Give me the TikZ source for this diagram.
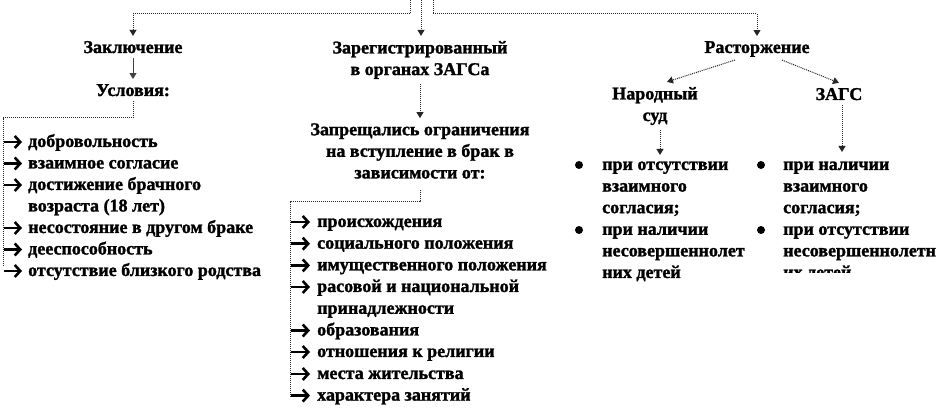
\documentclass[tikz,border=0pt]{standalone}
\usepackage{fontspec}
\setmainfont{Liberation Serif}[BoldFeatures={FakeBold=1.5}]
\usetikzlibrary{arrows.meta,calc}
\begin{document}
\begin{tikzpicture}[x=1pt,y=-1pt,
  font=\fontsize{18}{21.6}\selectfont\bfseries,
  lbl/.style={inner xsep=2pt, inner ysep=5pt, align=center},
  item/.style={anchor=base west, inner sep=0pt},
  dotln/.style={line width=1pt, dash pattern=on 1pt off 1pt, draw=black!85},
  tipA/.style={-{Triangle[width=7pt,length=6pt]}},
  listarr/.style={line width=2.6pt, -{Straight Barb[length=5.5pt, width=12pt, line width=2.6pt]}},
  bul/.style={circle, fill=black, inner sep=0pt, minimum size=8pt}]
\useasboundingbox[fill=white] (0,0) rectangle (940,419);

% top-level labels
\node[lbl, anchor=base] (zakl) at (133,53) {Заключение};
\node[lbl] (zareg) at (420,60) {Зарегистрированный\\в органах ЗАГСа};
\node[lbl, anchor=base] (rast) at (757,53) {Расторжение};
\node[lbl, anchor=base] (usl) at (133,96) {Условия:};
\node[lbl] (zapr) at (420,151) {Запрещались ограничения\\на вступление в брак в\\зависимости от:};
\node[lbl] (nars) at (655,106) {Народный\\суд};
\node[lbl, anchor=base] (zags) at (839,100) {ЗАГС};

% top connectors
\coordinate (t1) at (410,0);
\coordinate (t2) at (421,0);
\coordinate (t3) at (433,0);
\draw[dotln, tipA] (t1) -- ++(0,14) -| (zakl.north);
\draw[dotln, tipA] (t2) -- (t2 |- zareg.north);
\draw[dotln, tipA] (t3) -- ++(0,14) -| (rast.north);

% left branch
\draw[line width=1pt, draw=black!75, tipA] (zakl.south) -- (usl.north);
\coordinate (lturn) at (3,118);
\coordinate (lend) at (3,267);
\draw[dotln] (usl.south) |- (lturn) -- (lend);
\node[item] (l1) at (28,147) {добровольность};
\node[item] (l2) at (28,168.5) {взаимное согласие};
\node[item] (l3) at (28,190) {достижение брачного};
\node[item] (l3b) at (28,211.5) {возраста (18 лет)};
\node[item] (l4) at (28,233) {несостояние в другом браке};
\node[item] (l5) at (28,254.5) {дееспособность};
\node[item] (l6) at (28,276) {отсутствие близкого родства};
\foreach \n in {l1,l2,l3,l4,l5,l6}
  \draw[listarr] ($(\n.base west)+(-24,-5)$) -- ++(18,0);

% middle branch
\draw[dotln, tipA] (zareg.south) -- (zapr.north);
\coordinate (mturn) at (290,202);
\coordinate (mend) at (290,397);
\draw[dotln, shorten <=6pt] (zapr.south) |- (mturn) -- (mend);
\node[item] (m1) at (317,227) {происхождения};
\node[item] (m2) at (317,248.7) {социального положения};
\node[item] (m3) at (317,270.4) {имущественного положения};
\node[item] (m4) at (317,292) {расовой и национальной};
\node[item] (m4b) at (317,313.8) {принадлежности};
\node[item] (m5) at (317,335.5) {образования};
\node[item] (m6) at (317,357) {отношения к религии};
\node[item] (m7) at (317,379) {места жительства};
\node[item] (m8) at (317,400.6) {характера занятий};
\foreach \n in {m1,m2,m3,m4,m5,m6,m7,m8}
  \draw[listarr] ($(\n.base west)+(-26,-5)$) -- ++(19,0);

% right branch
\draw[dotln, tipA] ($(rast.south)+(-22,-2)$) -- ($(nars.north)+(12,0)$);
\draw[dotln, tipA] ($(rast.south)+(25,-2)$) -- (zags.north);
\coordinate (na) at (660,155);
\coordinate (za) at (842,152);
\draw[dotln, tipA] (nars.south -| na) -- (na);
\draw[dotln, tipA] (zags.south -| za) -- (za);

\node[bul] (b1) at (579,165) {};
\node[bul] (b2) at (579,230) {};
\node[item] (r1) at (602,170) {при отсутствии};
\node[item] (r2) at (602,191.6) {взаимного};
\node[item] (r3) at (602,213.2) {согласия;};
\node[item] (r4) at (602,234.8) {при наличии};
\node[item] (r5) at (602,256.4) {несовершеннолет};
\node[item] (r6) at (602,278) {них детей};

\node[bul] (b3) at (761,165) {};
\node[bul] (b4) at (761,230) {};
\node[item] (s1) at (783,170) {при наличии};
\node[item] (s2) at (783,191.6) {взаимного};
\node[item] (s3) at (783,213.2) {согласия;};
\node[item] (s4) at (783,234.8) {при отсутствии};
\node[item] (s5) at (783,256.4) {несовершеннолетн};
\begin{scope}
\clip (740,240) rectangle (940,272.5);
\node[item] (s6) at (783,278) {их детей};
\end{scope}
\end{tikzpicture}
\end{document}
